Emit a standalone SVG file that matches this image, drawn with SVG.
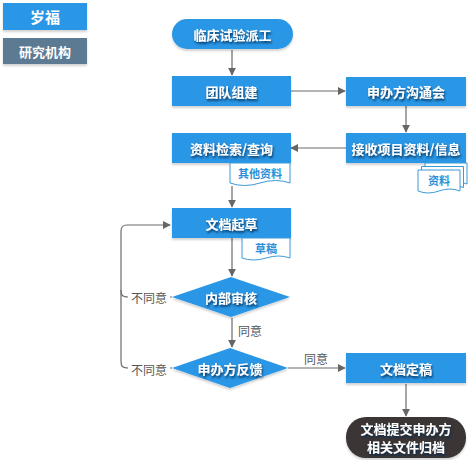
<svg xmlns="http://www.w3.org/2000/svg" width="470" height="460" viewBox="0 0 470 460">
<defs>
<filter id="ts" x="-20%" y="-40%" width="140%" height="180%">
<feGaussianBlur in="SourceAlpha" stdDeviation="1.2"/>
<feOffset dx="1" dy="1.5" result="b"/>
<feFlood flood-color="#0a2a50" flood-opacity="0.9"/>
<feComposite in2="b" operator="in"/>
<feMerge><feMergeNode/><feMergeNode in="SourceGraphic"/></feMerge>
</filter>
<filter id="bs" x="-10%" y="-20%" width="120%" height="150%">
<feGaussianBlur in="SourceAlpha" stdDeviation="1.2"/>
<feOffset dx="0" dy="1.5" result="b"/>
<feFlood flood-color="#000" flood-opacity="0.18"/>
<feComposite in2="b" operator="in"/>
<feMerge><feMergeNode/><feMergeNode in="SourceGraphic"/></feMerge>
</filter>
<marker id="ah" viewBox="0 0 10 10" refX="9" refY="5" markerWidth="8" markerHeight="8" markerUnits="userSpaceOnUse" orient="auto">
<path d="M0,0 L10,5 L0,10 z" fill="#666"/>
</marker>
</defs>
<style>
.box{fill:#2b97e6;filter:url(#bs)}
.t{font-family:"Noto Sans CJK SC","Liberation Sans",sans-serif;font-weight:bold;font-size:13px;fill:#fff;text-anchor:middle;dominant-baseline:central;filter:url(#ts)}
.doc{fill:#fff;stroke:#3d9ad8;stroke-width:1}
.dt{font-family:"Noto Sans CJK SC","Liberation Sans",sans-serif;font-weight:bold;font-size:11px;fill:#2b8fd8;text-anchor:middle;dominant-baseline:central}
.ln{fill:none;stroke:#6b6b6b;stroke-width:1.2}
.lb{font-family:"Noto Sans CJK SC","Liberation Sans",sans-serif;font-size:12px;fill:#555;text-anchor:middle;dominant-baseline:central}
</style>
<g id="legend1"><rect x="3" y="3" width="84" height="27" fill="#2b97e6" filter="url(#bs)"/><text x="45" y="16.5" font-family="Noto Sans CJK SC,sans-serif" font-weight="bold" font-size="15" fill="#fff" text-anchor="middle" dominant-baseline="central">岁福</text></g>
<g id="legend2"><rect x="3" y="38" width="84" height="26" fill="#5b7a91" filter="url(#bs)"/><text x="45" y="51" font-family="Noto Sans CJK SC,sans-serif" font-weight="bold" font-size="13" fill="#fff" text-anchor="middle" dominant-baseline="central">研究机构</text></g>
<g id="connectors">
<path class="ln" d="M232,50 V75" marker-end="url(#ah)"/>
<path class="ln" d="M290,91 H345" marker-end="url(#ah)"/>
<path class="ln" d="M406,106 V132" marker-end="url(#ah)"/>
<path class="ln" d="M346,148 H291" marker-end="url(#ah)"/>
<path class="ln" d="M232,186 V207" marker-end="url(#ah)"/>
<path class="ln" d="M232,238 V276" marker-end="url(#ah)"/>
<path class="ln" d="M232,318 V347" marker-end="url(#ah)"/>
<path class="ln" d="M172,297 H170 M128,297 C122,297 121,295 121,290 V231 Q121,225 127,225 H170" marker-end="url(#ah)"/>
<path class="ln" d="M172,368 H170 M128,368 C122,368 121,366 121,361 V290"/>
<path class="ln" d="M288,368 H345" marker-end="url(#ah)"/>
<path class="ln" d="M406,384 V416" marker-end="url(#ah)"/>
<text class="lb" x="149" y="297">不同意</text>
<text class="lb" x="149" y="369">不同意</text>
<text class="lb" x="250" y="330">同意</text>
<text class="lb" x="316" y="358">同意</text>
</g>
<g id="start"><rect x="172" y="19" width="121" height="30" rx="15" class="box"/><text class="t" x="232.5" y="34">临床试验派工</text></g>
<g id="team"><rect x="172" y="76" width="119" height="30" class="box"/><text class="t" x="231.5" y="91">团队组建</text></g>
<g id="meeting"><rect x="346" y="77" width="120" height="29" class="box"/><text class="t" x="406" y="91.5">申办方沟通会</text></g>
<g id="search"><rect x="172" y="133" width="119" height="30" class="box"/><text class="t" x="231.5" y="148">资料检索/查询</text></g>
<g id="receive"><rect x="346" y="133" width="120" height="30" class="box"/><text class="t" x="406" y="148">接收项目资料/信息</text></g>
<g id="otherdoc"><path class="doc" d="M230,163 H290 V183 Q276,178 260,183 Q244,188 230,183 Z"/><text class="dt" x="260" y="173">其他资料</text></g>
<g id="docs">
<path class="doc" d="M425,163 H467 V184 Q457,180 446,184 Q435,188 425,184 Z"/>
<path class="doc" d="M421.5,166.5 H463.5 V187.5 Q453.5,183.5 442.5,187.5 Q431.5,191.5 421.5,187.5 Z"/>
<path class="doc" d="M418,170 H460 V191 Q450,187 439,191 Q428,195 418,191 Z"/>
<text class="dt" x="439" y="180">资料</text></g>
<g id="draft"><rect x="172" y="208" width="119" height="30" class="box"/><text class="t" x="231.5" y="223">文档起草</text></g>
<g id="draftdoc"><path class="doc" d="M242,238 H290 V258 Q279,254 266,258 Q253,262 242,258 Z"/><text class="dt" x="266" y="248">草稿</text></g>
<g id="review"><path d="M231,277 L290,297 L231,317 L172,297 Z" class="box"/><text class="t" x="231" y="297">内部审核</text></g>
<g id="feedback"><path d="M230,348 L288,368 L230,388 L172,368 Z" class="box"/><text class="t" x="230" y="368">申办方反馈</text></g>
<g id="final"><rect x="346" y="353" width="120" height="30" class="box"/><text class="t" x="406" y="368">文档定稿</text></g>
<g id="end"><rect x="346" y="417" width="120" height="41" rx="20" fill="#3b3535" filter="url(#bs)"/><text class="t" x="406" y="428.5" font-size="14">文档提交申办方</text><text class="t" x="406" y="446.5" font-size="14">相关文件归档</text></g>
</svg>
